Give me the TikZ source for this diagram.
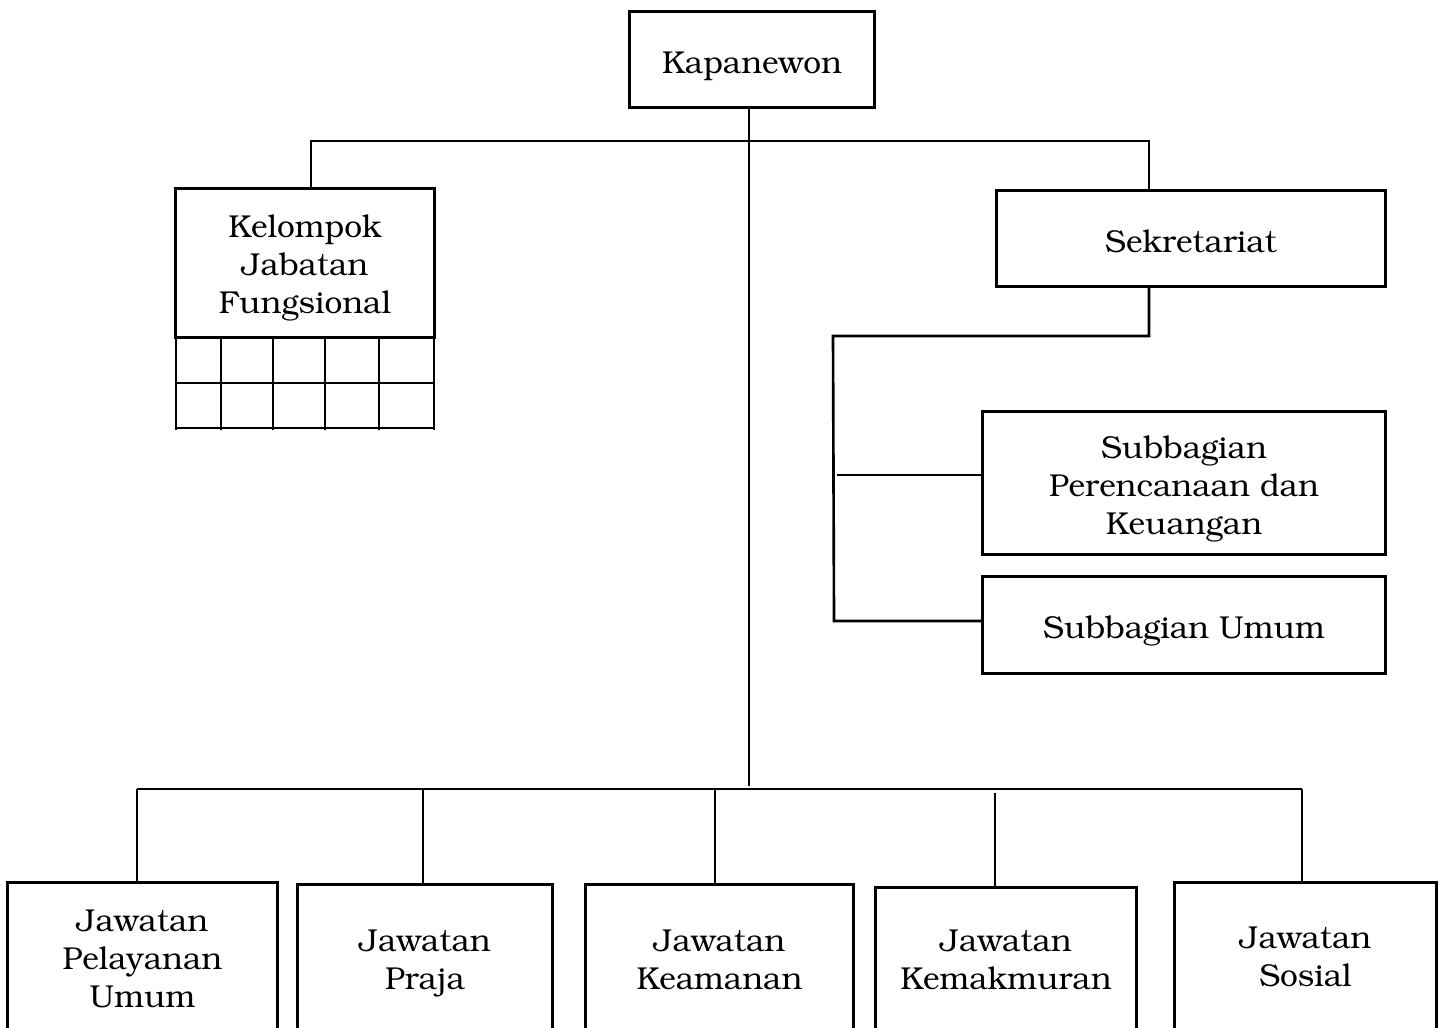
\documentclass[tikz,border=0pt]{standalone}
\usepackage[T1]{fontenc}
\usepackage{bookman}
\begin{document}
\begin{tikzpicture}[x=0.01cm,y=-0.01cm,
  unit/.style={draw, line width=0.85pt, inner sep=0pt},
  lab/.style={inner sep=0pt, align=center, font=\fontsize{9.0}{10.8}\selectfont},
  conn/.style={line width=0.75pt}]
\useasboundingbox (0,0) rectangle (1443,1027);
% nodes
\node[unit, minimum width=2.44cm, minimum height=0.95cm,
  label={[lab,yshift=-0.06cm]center:Kapanewon}] (kap) at (752,59.5) {};
\node[unit, minimum width=2.58cm, minimum height=1.48cm,
  label={[lab,yshift=-0.05cm]center:Kelompok\\Jabatan\\Fungsional}] (kjf) at (305,263) {};
\node[unit, minimum width=3.88cm, minimum height=0.96cm,
  label={[lab,yshift=-0.03cm]center:Sekretariat}] (sek) at (1191,238.5) {};
\node[unit, minimum width=4.02cm, minimum height=1.42cm,
  label={[lab,yshift=-0.06cm]center:Subbagian\\Perencanaan dan\\Keuangan}] (spk) at (1184,483) {};
\node[unit, minimum width=4.02cm, minimum height=0.96cm,
  label={[lab,yshift=-0.06cm]center:Subbagian Umum}] (sum) at (1184,625) {};
\node[unit, minimum width=2.69cm, minimum height=1.48cm,
  label={[lab,yshift=-0.02cm]center:Jawatan\\Pelayanan\\Umum}] (j1) at (142.5,957) {};
\node[unit, minimum width=2.54cm, minimum height=1.46cm,
  label={[lab,yshift=-0.05cm]center:Jawatan\\Praja}] (j2) at (425,958) {};
\node[unit, minimum width=2.67cm, minimum height=1.46cm,
  label={[lab,yshift=-0.01cm]center:Jawatan\\Keamanan}] (j3) at (719.5,958) {};
\node[unit, minimum width=2.60cm, minimum height=1.42cm,
  label={[lab]center:Jawatan\\Kemakmuran}] (j4) at (1006,959) {};
\node[unit, minimum width=2.61cm, minimum height=1.46cm,
  label={[lab,yshift=-0.005cm]center:Jawatan\\Sosial}] (j5) at (1305.5,956) {};
% grid below Kelompok Jabatan Fungsional
\foreach \gx in {176,221,273,325,379,434}
  \draw[conn] (\gx,337) -- (\gx,430);
\foreach \gy in {383,428}
  \draw[conn] (177,\gy) -- (433,\gy);
% main trunk
\coordinate (mb) at (749,786);
\draw[conn] (kap.south -| mb) -- (mb);
% top bar
\coordinate (tl) at (311,141);
\coordinate (tr) at (1149,141);
\draw[conn] (kjf.north -| tl) -- (tl) -- (tr) -- (sek.north -| tr);
% sekretariat branches
\coordinate (s1) at (1149,336);
\coordinate (s2) at (833,336);
\coordinate (s3) at (834,621);
\draw[conn] (sek.south -| s1) -- (s1) -- (s2) -- (s3) -- (sum.west |- s3);
\coordinate (b1) at (837,475);
\draw[conn] (b1) -- (spk.west |- b1);
% bottom bar
\coordinate (bl) at (137,789);
\coordinate (br) at (1302,789);
\draw[conn] (bl) -- (br);
\draw[conn] (bl) -- (j1.north -| bl);
\coordinate (d2) at (423,789);
\draw[conn] (d2) -- (j2.north -| d2);
\coordinate (d3) at (715,789);
\draw[conn] (d3) -- (j3.north -| d3);
\coordinate (d4) at (995,793);
\draw[conn] (d4) -- (j4.north -| d4);
\draw[conn] (br) -- (j5.north -| br);
\end{tikzpicture}
\end{document}
